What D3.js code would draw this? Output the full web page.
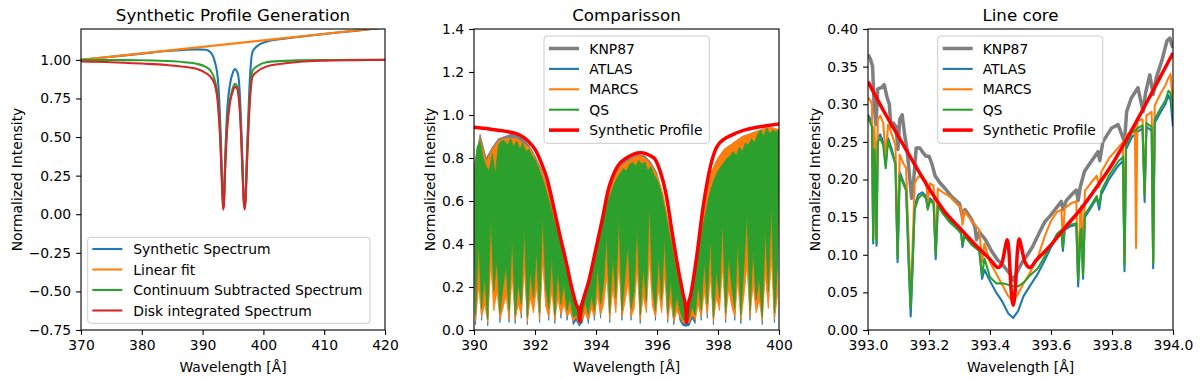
<!DOCTYPE html>
<html><head><meta charset="utf-8">
<script src="https://cdn.jsdelivr.net/npm/d3@7"></script>
<style>body{margin:0;background:#fff}svg{display:block}</style>
</head><body>
<svg id="c" width="1200" height="380"></svg>
<script>
// ---------------- Panel 1: Synthetic Profile Generation ----------------
const genWl = [370,375,380,384,387,389,390.5,391.3,392.0,392.5,392.9,393.1,393.3,393.4,393.5,393.7,394.0,394.5,395.0,395.3,395.6,395.9,396.2,396.5,396.75,396.9,397.05,397.3,397.7,398.2,399.0,400.5,403,406,410,415,420];
const synthSpectrum = [1.0,1.02,1.04,1.057,1.065,1.068,1.065,1.05,0.99,0.88,0.60,0.36,0.12,0.05,0.08,0.35,0.64,0.84,0.92,0.94,0.93,0.89,0.72,0.41,0.12,0.05,0.10,0.40,0.82,1.05,1.09,1.118,1.135,1.15,1.168,1.188,1.21];
const contSubtracted = [1.0,0.999,0.998,0.993,0.985,0.975,0.955,0.93,0.87,0.76,0.51,0.30,0.10,0.04,0.07,0.30,0.56,0.74,0.82,0.845,0.835,0.79,0.64,0.36,0.10,0.04,0.09,0.35,0.72,0.93,0.96,0.985,0.993,0.997,0.999,1.0,1.0];
const diskIntegrated = [0.989,0.985,0.976,0.967,0.955,0.942,0.915,0.89,0.84,0.72,0.48,0.28,0.09,0.03,0.06,0.28,0.53,0.72,0.80,0.825,0.82,0.77,0.62,0.34,0.09,0.03,0.08,0.33,0.68,0.89,0.925,0.957,0.975,0.988,0.995,0.998,1.0];
const linFitWl = [370, 420];
const linFit = [1.0, 1.2105];
const genXTicks = [370,380,390,400,410,420];
const genYTicks = [-0.75,-0.5,-0.25,0,0.25,0.5,0.75,1.0];
const genLabels = ["Synthetic Spectrum","Linear fit","Continuum Subtracted Spectrum","Disk integrated Spectrum"];

// ---------------- Panel 2: Comparisson (dense spectra: envelope tops / local minima) ----------------
const cmpTopWl = d3.range(101).map(i => 390 + i / 10);
const cmpLowWl = d3.range(100).map(i => 390.05 + i / 10);
const cmpCoarseWl = d3.range(51).map(i => 390 + i / 5);
const cmpHalfWl = d3.range(21).map(i => 390 + i / 2);
const qsTop = [0.72,0.85,0.88,0.80,0.76,0.74,0.82,0.72,0.86,0.88,
  0.88,0.86,0.89,0.85,0.88,0.84,0.87,0.83,0.84,0.81,
  0.79,0.76,0.72,0.68,0.63,0.58,0.52,0.47,0.42,0.36,
  0.28,0.25,0.17,0.14,0.08,0.07,0.13,0.19,0.22,0.28,
  0.34,0.42,0.48,0.55,0.60,0.64,0.68,0.71,0.73,0.75,
  0.74,0.77,0.78,0.76,0.79,0.77,0.78,0.74,0.76,0.72,
  0.70,0.66,0.60,0.53,0.45,0.38,0.30,0.23,0.17,0.11,
  0.08,0.14,0.21,0.31,0.42,0.48,0.55,0.62,0.67,0.71,
  0.74,0.76,0.78,0.80,0.81,0.83,0.81,0.85,0.83,0.87,
  0.86,0.89,0.87,0.91,0.93,0.90,0.94,0.91,0.93,0.92,0.93];
const qsLow = [0.07,0.42,0.10,0.25,0.05,0.55,0.18,0.33,0.08,0.20,
  0.30,0.09,0.45,0.07,0.22,0.12,0.50,0.06,0.28,0.15,
  0.38,0.08,0.55,0.20,0.10,0.35,0.07,0.28,0.12,0.22,
  0.09,0.15,0.06,0.07,0.04,0.07,0.13,0.07,0.16,0.09,
  0.30,0.12,0.22,0.45,0.08,0.35,0.15,0.55,0.09,0.25,
  0.40,0.10,0.18,0.50,0.07,0.30,0.13,0.60,0.20,0.09,
  0.35,0.14,0.45,0.08,0.24,0.06,0.16,0.09,0.05,0.04,
  0.05,0.11,0.07,0.22,0.09,0.33,0.12,0.45,0.06,0.28,
  0.15,0.52,0.08,0.35,0.20,0.10,0.42,0.07,0.30,0.55,
  0.09,0.38,0.14,0.25,0.06,0.48,0.18,0.60,0.08,0.30];
const marcsTop = [0.75,0.89,0.78,0.84,0.88,0.89,0.89,0.89,0.87,0.85,
  0.80,0.74,0.66,0.55,0.42,0.30,0.18,0.09,0.13,0.24,
  0.36,0.48,0.61,0.71,0.76,0.78,0.80,0.81,0.80,0.77,
  0.72,0.63,0.48,0.32,0.19,0.09,0.23,0.45,0.62,0.74,
  0.80,0.84,0.86,0.88,0.90,0.91,0.92,0.93,0.94,0.94,0.93];
const marcsLow = [0.04,0.20,0.06,0.12,0.035,0.30,0.09,0.18,0.05,0.10,
  0.16,0.05,0.25,0.045,0.12,0.07,0.28,0.04,0.15,0.08,
  0.20,0.05,0.32,0.11,0.06,0.18,0.045,0.15,0.07,0.12,
  0.06,0.09,0.04,0.06,0.03,0.05,0.08,0.045,0.10,0.06,
  0.16,0.07,0.12,0.25,0.05,0.19,0.08,0.30,0.06,0.13,
  0.22,0.06,0.10,0.28,0.045,0.16,0.08,0.33,0.11,0.06,
  0.19,0.08,0.25,0.05,0.13,0.04,0.09,0.06,0.035,0.03,
  0.035,0.07,0.045,0.12,0.06,0.18,0.07,0.25,0.04,0.15,
  0.09,0.29,0.05,0.19,0.11,0.06,0.23,0.045,0.16,0.30,
  0.06,0.21,0.08,0.14,0.04,0.26,0.10,0.33,0.05,0.16];
const atlasTop = [0.70,0.72,0.85,0.84,0.76,0.55,0.24,0.06,0.30,0.60,0.74,0.76,0.67,0.33,0.07,0.46,0.70,0.80,0.85,0.90,0.89];
const atlasLow = [0.025,0.40,0.045,0.40,0.02,0.45,0.40,0.40,0.035,0.40,
  0.45,0.035,0.45,0.03,0.45,0.055,0.45,0.025,0.45,0.40,
  0.40,0.035,0.40,0.40,0.045,0.35,0.03,0.30,0.055,0.25,
  0.045,0.15,0.025,0.045,0.018,0.035,0.10,0.03,0.18,0.045,
  0.28,0.055,0.40,0.45,0.035,0.50,0.50,0.50,0.045,0.50,
  0.50,0.045,0.50,0.50,0.03,0.50,0.50,0.50,0.50,0.045,
  0.45,0.45,0.40,0.035,0.25,0.025,0.15,0.045,0.02,0.018,
  0.02,0.055,0.03,0.22,0.045,0.35,0.055,0.45,0.025,0.45,
  0.50,0.50,0.035,0.50,0.50,0.045,0.50,0.03,0.50,0.50,
  0.045,0.50,0.50,0.50,0.025,0.50,0.50,0.50,0.035,0.45];
const knpTop = [0.76,0.91,0.80,0.85,0.89,0.90,0.91,0.91,0.89,0.86,
  0.81,0.75,0.67,0.56,0.43,0.31,0.19,0.10,0.14,0.25,
  0.37,0.49,0.62,0.72,0.77,0.79,0.81,0.815,0.81,0.78,
  0.73,0.62,0.47,0.31,0.18,0.09,0.24,0.44,0.62,0.74,
  0.80,0.84,0.86,0.88,0.90,0.91,0.92,0.93,0.94,0.94,0.93];
const knpLow = [0.64,0.79,0.68,0.73,0.77,0.78,0.79,0.79,0.77,0.74,
  0.69,0.63,0.56,0.47,0.37,0.27,0.17,0.09,0.13,0.23,
  0.33,0.44,0.54,0.61,0.66,0.68,0.70,0.70,0.70,0.67,
  0.62,0.52,0.38,0.24,0.14,0.07,0.20,0.36,0.51,0.62,
  0.68,0.72,0.74,0.76,0.78,0.79,0.80,0.81,0.83,0.82,0.81];
const synthProfWl = [390.0,390.5,391.0,391.5,391.8,392.0,392.2,392.4,392.6,392.8,393.0,393.2,393.35,393.44,393.47,393.50,393.6,393.75,394.0,394.2,394.4,394.7,395.0,395.45,395.9,396.1,396.3,396.5,396.7,396.85,396.94,396.97,397.0,397.1,397.3,397.5,397.75,398.0,398.5,399.0,399.5,400.0];
const synthProf = [0.943,0.935,0.925,0.907,0.875,0.84,0.78,0.70,0.58,0.45,0.33,0.20,0.12,0.09,0.04,0.09,0.15,0.22,0.38,0.51,0.65,0.76,0.80,0.825,0.80,0.74,0.63,0.45,0.28,0.17,0.10,0.035,0.10,0.16,0.34,0.56,0.76,0.86,0.91,0.935,0.948,0.958];
const cmpXTicks = [390,392,394,396,398,400];
const cmpYTicks = [0,0.2,0.4,0.6,0.8,1.0,1.2,1.4];
const modelLabels = ["KNP87","ATLAS","MARCS","QS","Synthetic Profile"];

// ---------------- Panel 3: Line core ----------------
const coreWl = [393.000,393.008,393.013,393.017,393.021,393.025,393.028,393.032,393.040,393.050,
  393.058,393.066,393.078,393.090,393.097,393.104,393.115,393.125,393.133,393.140,
  393.147,393.153,393.165,393.178,393.190,393.196,393.203,393.215,393.222,393.229,
  393.245,393.266,393.290,393.305,393.310,393.316,393.340,393.365,393.374,393.382,
  393.400,393.420,393.440,393.460,393.476,393.492,393.510,393.530,393.557,393.580,
  393.600,393.620,393.634,393.639,393.645,393.665,393.683,393.689,393.696,393.700,
  393.705,393.711,393.730,393.750,393.758,393.765,393.790,393.820,393.836,393.841,
  393.846,393.865,393.875,393.879,393.883,393.900,393.907,393.913,393.930,393.935,
  393.940,393.960,393.975,393.985,393.992,394.000];
const coreQS = [0.282,0.275,0.27,0.12,0.24,0.20,0.115,0.25,0.255,0.245,
  0.215,0.252,0.235,0.22,0.095,0.206,0.195,0.185,0.10,0.029,
  0.10,0.16,0.175,0.18,0.175,0.16,0.172,0.168,0.10,0.165,
  0.155,0.144,0.135,0.128,0.113,0.125,0.113,0.105,0.073,0.095,
  0.07,0.062,0.062,0.060,0.058,0.058,0.063,0.072,0.082,0.098,
  0.113,0.128,0.133,0.109,0.136,0.14,0.142,0.065,0.13,0.135,
  0.073,0.153,0.165,0.178,0.165,0.185,0.205,0.224,0.23,0.086,
  0.245,0.262,0.265,0.265,0.268,0.272,0.18,0.275,0.27,0.089,
  0.28,0.295,0.305,0.318,0.315,0.29];
const coreATLAS = [0.286,0.280,0.272,0.115,0.24,0.20,0.112,0.255,0.26,0.25,
  0.22,0.255,0.24,0.222,0.09,0.21,0.198,0.188,0.09,0.018,
  0.09,0.165,0.18,0.183,0.178,0.162,0.175,0.17,0.094,0.166,
  0.157,0.146,0.137,0.13,0.11,0.127,0.115,0.105,0.068,0.08,
  0.065,0.05,0.038,0.022,0.016,0.025,0.045,0.058,0.075,0.093,
  0.11,0.125,0.13,0.105,0.133,0.138,0.14,0.058,0.125,0.13,
  0.068,0.15,0.162,0.175,0.16,0.18,0.2,0.218,0.225,0.078,
  0.24,0.256,0.26,0.26,0.263,0.268,0.17,0.27,0.265,0.082,
  0.275,0.29,0.30,0.312,0.305,0.27];
const coreMARCS = [0.309,0.305,0.30,0.125,0.27,0.22,0.12,0.28,0.285,0.275,
  0.23,0.273,0.26,0.245,0.105,0.233,0.222,0.215,0.12,0.036,
  0.12,0.195,0.204,0.203,0.198,0.17,0.195,0.192,0.105,0.188,
  0.183,0.178,0.168,0.162,0.14,0.158,0.145,0.133,0.09,0.115,
  0.09,0.075,0.06,0.045,0.038,0.048,0.062,0.075,0.097,0.125,
  0.145,0.157,0.16,0.12,0.162,0.168,0.171,0.07,0.16,0.165,
  0.075,0.185,0.195,0.205,0.19,0.21,0.228,0.242,0.25,0.09,
  0.258,0.265,0.272,0.109,0.278,0.28,0.18,0.285,0.29,0.092,
  0.298,0.315,0.325,0.335,0.34,0.30];
const coreKnpWl = [393.000,393.008,393.015,393.020,393.026,393.032,393.043,393.053,393.062,393.070,
  393.075,393.083,393.092,393.098,393.104,393.112,393.120,393.128,393.135,393.143,
  393.150,393.158,393.170,393.180,393.190,393.200,393.210,393.220,393.235,393.255,
  393.275,393.300,393.310,393.318,393.335,393.350,393.356,393.365,393.385,393.405,
  393.425,393.445,393.465,393.476,393.490,393.507,393.520,393.540,393.560,393.580,
  393.600,393.634,393.640,393.650,393.668,393.683,393.689,393.696,393.710,393.732,
  393.754,393.760,393.770,393.798,393.820,393.841,393.848,393.863,393.885,393.902,
  393.910,393.924,393.935,393.945,393.965,393.980,393.990,393.995,394.000];
const coreKNP = [0.366,0.360,0.350,0.300,0.273,0.320,0.322,0.326,0.310,0.300,
  0.270,0.275,0.270,0.240,0.280,0.286,0.260,0.240,0.210,0.175,
  0.200,0.242,0.242,0.236,0.231,0.231,0.220,0.205,0.196,0.187,
  0.177,0.168,0.150,0.160,0.150,0.138,0.120,0.130,0.120,0.105,
  0.093,0.085,0.075,0.066,0.078,0.091,0.098,0.111,0.128,0.144,
  0.153,0.171,0.160,0.172,0.180,0.186,0.172,0.190,0.211,0.224,
  0.237,0.225,0.250,0.268,0.273,0.250,0.290,0.308,0.322,0.290,
  0.315,0.339,0.313,0.335,0.360,0.384,0.388,0.380,0.375];
const coreSynthWl = [393.00,393.05,393.10,393.15,393.20,393.25,393.30,393.35,393.40,393.427,
  393.440,393.450,393.456,393.462,393.469,393.476,393.483,393.490,393.496,393.503,
  393.515,393.531,393.55,393.60,393.65,393.70,393.75,393.80,393.85,393.90,393.95,394.00];
const coreSynth = [0.330,0.292,0.257,0.222,0.188,0.158,0.136,0.114,0.094,0.083,
  0.090,0.110,0.120,0.105,0.055,0.033,0.055,0.105,0.121,0.110,
  0.090,0.083,0.092,0.113,0.138,0.162,0.190,0.220,0.255,0.292,0.330,0.368];
const coreXTicks = [393.0,393.2,393.4,393.6,393.8,394.0];
const coreYTicks = [0,0.05,0.10,0.15,0.20,0.25,0.30,0.35,0.40];

// ---------------- drawing ----------------
const FONT = "'DejaVu Sans', sans-serif";
const TOP = 29, BOTTOM = 330;
const C = {blue:"#1f77b4", orange:"#ff7f0e", green:"#2ca02c", red:"#d62728", gray:"#7f7f7f", pure:"#ff0000"};
const svg = d3.select("#c");
const defs = svg.append("defs");

function makePanel(o) {
  const x = d3.scaleLinear().domain(o.xDom).range([o.left, o.right]);
  const y = d3.scaleLinear().domain(o.yDom).range([BOTTOM, TOP]);
  const cid = "clip" + o.id;
  defs.append("clipPath").attr("id", cid).append("rect")
    .attr("x", o.left).attr("y", TOP).attr("width", o.right - o.left).attr("height", BOTTOM - TOP);
  const root = svg.append("g");
  const plot = root.append("g").attr("clip-path", `url(#${cid})`);
  const over = root.append("g");
  return {x, y, plot, over, o};
}
function finishPanel(p) {
  const {x, y, over, o} = p;
  over.append("rect").attr("x", o.left).attr("y", TOP).attr("width", o.right - o.left).attr("height", BOTTOM - TOP)
    .attr("fill", "none").attr("stroke", "#000").attr("stroke-width", 1.1);
  const ax = over.append("g").attr("transform", `translate(0,${BOTTOM})`)
    .call(d3.axisBottom(x).tickValues(o.xTicks).tickFormat(d3.format(o.xFmt)).tickSize(4.9).tickPadding(4.9));
  const ay = over.append("g").attr("transform", `translate(${o.left},0)`)
    .call(d3.axisLeft(y).tickValues(o.yTicks).tickFormat(d3.format(o.yFmt)).tickSize(4.9).tickPadding(4.9));
  [ax, ay].forEach(a => {
    a.select(".domain").remove();
    a.attr("font-family", FONT).attr("font-size", 13.9);
    a.selectAll("line").attr("stroke", "#000").attr("stroke-width", 1.1);
    a.selectAll("text").attr("fill", "#000");
  });
  const cx = (o.left + o.right) / 2;
  over.append("text").attr("x", cx).attr("y", 21).attr("text-anchor", "middle")
    .attr("font-family", FONT).attr("font-size", 16.7).text(o.title);
  over.append("text").attr("x", cx).attr("y", 372).attr("text-anchor", "middle")
    .attr("font-family", FONT).attr("font-size", 13.9).text("Wavelength [Å]");
  over.append("text").attr("transform", `translate(${o.ylabX},${(TOP + BOTTOM) / 2}) rotate(-90)`)
    .attr("text-anchor", "middle").attr("font-family", FONT).attr("font-size", 13.9).text("Normalized Intensity");
}
function drawLine(p, wl, vals, color, w, curve) {
  const pts = wl.map((d, i) => [d, vals[i]]);
  p.plot.append("path").attr("d", d3.line().x(d => p.x(d[0])).y(d => p.y(d[1])).curve(curve || d3.curveLinear)(pts))
    .attr("fill", "none").attr("stroke", color).attr("stroke-width", w)
    .attr("stroke-linejoin", "round").attr("stroke-linecap", "butt");
}
function drawBand(p, upWl, up, loWl, lo, color) {
  const pts = upWl.map((d, i) => [d, up[i]]).concat(loWl.map((d, i) => [d, lo[i]]).reverse());
  p.plot.append("path").attr("d", d3.line().x(d => p.x(d[0])).y(d => p.y(d[1]))(pts) + "Z")
    .attr("fill", color).attr("stroke", color).attr("stroke-width", 0.8).attr("stroke-linejoin", "round");
}
function legend(p, box, rows, items, lineX0, lineX1, textX) {
  const g = p.over.append("g");
  g.append("rect").attr("x", box[0]).attr("y", box[1]).attr("width", box[2]).attr("height", box[3])
    .attr("rx", 3).attr("ry", 3).attr("fill", "#fff").attr("fill-opacity", 0.8)
    .attr("stroke", "#cccccc").attr("stroke-width", 1);
  items.forEach((it, i) => {
    g.append("line").attr("x1", lineX0).attr("x2", lineX1).attr("y1", rows[i]).attr("y2", rows[i])
      .attr("stroke", it.color).attr("stroke-width", it.w);
    g.append("text").attr("x", textX).attr("y", rows[i] + 5).attr("font-family", FONT)
      .attr("font-size", 13.9).attr("fill", "#000").text(it.label);
  });
}

// Panel 1
const p1 = makePanel({id:1, left:81, right:385, xDom:[370,420], yDom:[-0.75,1.2], xTicks:genXTicks, yTicks:genYTicks,
  xFmt:"d", yFmt:".2f", title:"Synthetic Profile Generation", ylabX:21.5});
drawLine(p1, genWl, synthSpectrum, C.blue, 2.08, d3.curveMonotoneX);
drawLine(p1, linFitWl, linFit, C.orange, 2.08);
drawLine(p1, genWl, contSubtracted, C.green, 2.08, d3.curveMonotoneX);
drawLine(p1, genWl, diskIntegrated, C.red, 2.08, d3.curveMonotoneX);
finishPanel(p1);
legend(p1, [87.7, 237.3, 282.3, 86], [249, 269.5, 290, 310.5],
  [{label:genLabels[0], color:C.blue, w:2.08}, {label:genLabels[1], color:C.orange, w:2.08},
   {label:genLabels[2], color:C.green, w:2.08}, {label:genLabels[3], color:C.red, w:2.08}],
  92.3, 122.3, 133.3);

// Panel 2
const p2 = makePanel({id:2, left:474, right:779, xDom:[390,400], yDom:[0,1.4], xTicks:cmpXTicks, yTicks:cmpYTicks,
  xFmt:"d", yFmt:".1f", title:"Comparisson", ylabX:435});
drawBand(p2, cmpCoarseWl, knpTop, cmpCoarseWl, knpLow, C.gray);
drawBand(p2, cmpHalfWl, atlasTop, cmpLowWl, atlasLow, C.blue);
drawBand(p2, cmpCoarseWl, marcsTop, cmpLowWl, marcsLow, C.orange);
drawBand(p2, cmpTopWl, qsTop, cmpLowWl, qsLow, C.green);
drawLine(p2, synthProfWl, synthProf, C.pure, 3.5, d3.curveMonotoneX);
finishPanel(p2);
const modelItems = [{label:modelLabels[0], color:C.gray, w:3.5}, {label:modelLabels[1], color:C.blue, w:2.08},
  {label:modelLabels[2], color:C.orange, w:2.08}, {label:modelLabels[3], color:C.green, w:2.08},
  {label:modelLabels[4], color:C.pure, w:3.5}];
const legRows = [48.5, 68.9, 89.3, 109.7, 130.1];
legend(p2, [544, 36, 165.3, 107.3], legRows, modelItems, 549, 579, 589.3);

// Panel 3
const p3 = makePanel({id:3, left:868, right:1173, xDom:[393,394], yDom:[0,0.4], xTicks:coreXTicks, yTicks:coreYTicks,
  xFmt:".1f", yFmt:".2f", title:"Line core", ylabX:820});
drawLine(p3, coreKnpWl, coreKNP, C.gray, 3.5);
drawLine(p3, coreWl, coreATLAS, C.blue, 2.08);
drawLine(p3, coreWl, coreMARCS, C.orange, 2.08);
drawLine(p3, coreWl, coreQS, C.green, 2.08);
drawLine(p3, coreSynthWl, coreSynth, C.pure, 3.5, d3.curveMonotoneX);
finishPanel(p3);
legend(p3, [937.7, 36, 165, 107.3], legRows, modelItems, 942.7, 972.7, 982.7);
</script>
</body></html>
